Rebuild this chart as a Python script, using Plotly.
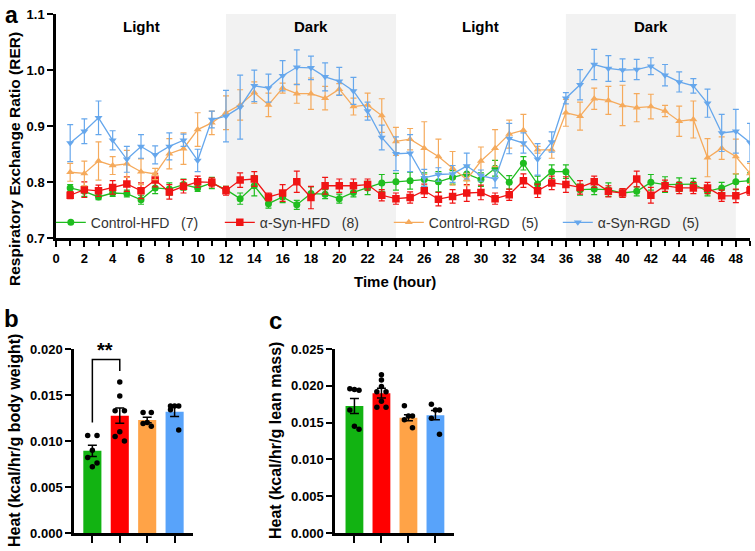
import plotly.graph_objects as go

# ---------------- data: panel a (RER time course) ----------------
hours = list(range(1, 50))
series_names = ["Control-HFD", "α-Syn-HFD", "Control-RGD", "α-Syn-RGD"]
series_n = ["(7)", "(8)", "(5)", "(5)"]

ctrl_hfd = [0.790, 0.784, 0.774, 0.781, 0.780, 0.769, 0.790, 0.788, 0.796, 0.790, 0.799, 0.787,
            0.771, 0.794, 0.762, 0.774, 0.760, 0.780, 0.779, 0.771, 0.782, 0.790, 0.799, 0.801,
            0.803, 0.805, 0.801, 0.809, 0.815, 0.805, 0.825, 0.800, 0.834, 0.797, 0.819, 0.819,
            0.787, 0.788, 0.787, 0.781, 0.784, 0.800, 0.796, 0.796, 0.797, 0.784, 0.790, 0.801, 0.803]
ctrl_hfd_err = [0.006, 0.009, 0.005, 0.006, 0.006, 0.008, 0.010, 0.011, 0.010, 0.006, 0.010, 0.006,
                0.010, 0.018, 0.008, 0.010, 0.008, 0.012, 0.008, 0.008, 0.008, 0.012, 0.015, 0.015,
                0.015, 0.012, 0.018, 0.012, 0.012, 0.012, 0.014, 0.012, 0.012, 0.014, 0.012, 0.012,
                0.010, 0.010, 0.012, 0.008, 0.008, 0.014, 0.014, 0.012, 0.010, 0.008, 0.010, 0.014, 0.014]

syn_hfd = [0.777, 0.787, 0.785, 0.791, 0.797, 0.785, 0.804, 0.783, 0.793, 0.801, 0.800, 0.785,
           0.804, 0.806, 0.774, 0.781, 0.801, 0.773, 0.794, 0.794, 0.794, 0.796, 0.777, 0.771,
           0.773, 0.785, 0.770, 0.775, 0.781, 0.782, 0.771, 0.778, 0.803, 0.785, 0.799, 0.796,
           0.791, 0.801, 0.784, 0.781, 0.806, 0.777, 0.794, 0.790, 0.790, 0.790, 0.776, 0.776, 0.785]
syn_hfd_err = [0.006, 0.014, 0.010, 0.012, 0.013, 0.014, 0.012, 0.013, 0.012, 0.010, 0.008, 0.008,
               0.013, 0.013, 0.007, 0.015, 0.019, 0.020, 0.015, 0.012, 0.012, 0.010, 0.010, 0.010,
               0.010, 0.012, 0.012, 0.012, 0.015, 0.013, 0.010, 0.010, 0.012, 0.012, 0.012, 0.014,
               0.012, 0.010, 0.010, 0.008, 0.014, 0.014, 0.010, 0.010, 0.010, 0.010, 0.010, 0.012, 0.008]

ctrl_rgd = [0.818, 0.816, 0.838, 0.830, 0.833, 0.819, 0.815, 0.851, 0.860, 0.894, 0.906, 0.924,
            0.938, 0.960, 0.938, 0.968, 0.958, 0.958, 0.950, 0.966, 0.935, 0.938, 0.919, 0.873,
            0.877, 0.861, 0.846, 0.825, 0.805, 0.838, 0.861, 0.886, 0.893, 0.858, 0.858, 0.924,
            0.918, 0.949, 0.946, 0.937, 0.933, 0.935, 0.927, 0.909, 0.912, 0.844, 0.861, 0.846, 0.816]
ctrl_rgd_err = [0.016, 0.022, 0.034, 0.016, 0.024, 0.023, 0.010, 0.027, 0.028, 0.030, 0.021, 0.030,
                0.027, 0.019, 0.021, 0.009, 0.017, 0.028, 0.021, 0.010, 0.015, 0.021, 0.030, 0.025,
                0.019, 0.047, 0.031, 0.030, 0.011, 0.025, 0.033, 0.025, 0.028, 0.006, 0.015, 0.024,
                0.025, 0.019, 0.025, 0.036, 0.025, 0.022, 0.010, 0.027, 0.033, 0.034, 0.020, 0.031, 0.018]

syn_rgd = [0.870, 0.891, 0.915, 0.875, 0.841, 0.864, 0.849, 0.864, 0.875, 0.839, 0.912, 0.918,
           0.934, 0.972, 0.968, 0.990, 1.005, 1.004, 0.988, 0.980, 0.963, 0.927, 0.880, 0.851,
           0.852, 0.808, 0.814, 0.815, 0.829, 0.812, 0.806, 0.878, 0.870, 0.841, 0.872, 0.950,
           0.974, 1.010, 1.003, 1.000, 1.001, 1.007, 0.991, 0.979, 0.972, 0.941, 0.888, 0.891, 0.871]
syn_rgd_err = [0.033, 0.022, 0.030, 0.017, 0.023, 0.021, 0.016, 0.024, 0.011, 0.020, 0.015, 0.046,
               0.057, 0.028, 0.025, 0.027, 0.031, 0.021, 0.025, 0.025, 0.024, 0.016, 0.022, 0.030,
               0.033, 0.015, 0.012, 0.015, 0.023, 0.010, 0.016, 0.027, 0.018, 0.028, 0.018, 0.010,
               0.027, 0.027, 0.023, 0.020, 0.018, 0.015, 0.019, 0.018, 0.013, 0.025, 0.033, 0.039, 0.034]

phase_labels = ["Light", "Dark", "Light", "Dark"]
phase_starts = [0, 12, 24, 36]
phase_ends = [12, 24, 36, 48]

# ---------------- data: panel b (heat / body weight) ----------------
groups = [0, 1, 2, 3]
heat_bw_mean = [0.00893, 0.01275, 0.01227, 0.01318]
heat_bw_sem = [0.00062, 0.00083, 0.00030, 0.00051]
heat_bw_dots = [
    [0.0106, 0.0106, 0.0090, 0.0082, 0.0076, 0.0072],
    [0.0164, 0.0149, 0.0133, 0.0133, 0.0110, 0.0105, 0.0100],
    [0.0131, 0.0131, 0.0120, 0.0119, 0.0116],
    [0.0138, 0.0138, 0.0138, 0.0134, 0.0112],
]
sig_pair = (0, 1)
sig_bracket = [0.0120, 0.01885, 0.0176]
sig_text = "**"

# ---------------- data: panel c (heat / lean mass) ----------------
heat_lm_mean = [0.01726, 0.01899, 0.01567, 0.01600]
heat_lm_sem = [0.00102, 0.00066, 0.00041, 0.00063]
heat_lm_dots = [
    [0.0196, 0.0194, 0.0195, 0.0167, 0.0141, 0.0145],
    [0.0215, 0.0208, 0.0199, 0.0192, 0.0192, 0.0179, 0.0171, 0.0171],
    [0.0173, 0.0159, 0.0159, 0.0154, 0.0143],
    [0.0175, 0.0167, 0.0167, 0.0156, 0.0134],
]

# ---------------- styling ----------------
FONT = "Liberation Sans, Arial, sans-serif"
line_colors = ["#1fbd1f", "#f01414", "#f5aa5c", "#66a7ec"]
bar_colors = ["#12b312", "#ff0000", "#ffa347", "#58a3fa"]
markers = ["circle", "square", "triangle-up", "triangle-down"]
marker_sizes = [7, 7.5, 7, 7]
dot_offsets = {
    5: [-0.15, 0.15, 0.0, -0.15, 0.15],
    6: [-0.17, 0.17, 0.0, -0.17, 0.17, 0.0],
    7: [0.0, 0.0, -0.17, 0.17, 0.0, -0.17, 0.17],
    8: [0.0, 0.0, 0.0, -0.17, 0.17, 0.0, -0.17, 0.17],
}

fig = go.Figure()

series_vals = [ctrl_hfd, syn_hfd, ctrl_rgd, syn_rgd]
series_errs = [ctrl_hfd_err, syn_hfd_err, ctrl_rgd_err, syn_rgd_err]

for i in range(4):
    fig.add_trace(go.Scatter(
        x=hours, y=series_vals[i], mode="lines+markers",
        name=series_names[i] + "\u00a0\u00a0\u00a0" + series_n[i],
        line=dict(color=line_colors[i], width=1.3),
        marker=dict(symbol=markers[i], size=marker_sizes[i], color=line_colors[i], line=dict(width=0)),
        error_y=dict(type="data", array=series_errs[i], color=line_colors[i], thickness=1.2, width=3),
        xaxis="x", yaxis="y",
    ))


def add_bar_panel(means, sems, dots, xa, ya):
    fig.add_trace(go.Bar(
        x=groups, y=means, width=0.66,
        marker=dict(color=bar_colors, line=dict(width=0)),
        error_y=dict(type="data", array=sems, color="black", thickness=1.5, width=4.5),
        showlegend=False, xaxis=xa, yaxis=ya,
    ))
    xs, ys = [], []
    for g, vals in zip(groups, dots):
        offs = dot_offsets[len(vals)]
        for o, v in zip(offs, vals):
            xs.append(g + o)
            ys.append(v)
    fig.add_trace(go.Scatter(
        x=xs, y=ys, mode="markers",
        marker=dict(color="black", size=5.5, symbol="circle"),
        showlegend=False, xaxis=xa, yaxis=ya, cliponaxis=False,
    ))


add_bar_panel(heat_bw_mean, heat_bw_sem, heat_bw_dots, "x2", "y2")
add_bar_panel(heat_lm_mean, heat_lm_sem, heat_lm_dots, "x3", "y3")

# significance bracket
a_, b_ = sig_pair
fig.add_trace(go.Scatter(
    x=[a_, a_, b_, b_], y=[sig_bracket[0], sig_bracket[1], sig_bracket[1], sig_bracket[2]],
    mode="lines", line=dict(color="black", width=1.5), showlegend=False,
    xaxis="x2", yaxis="y2", cliponaxis=False,
))

# shaded dark phases + phase labels
for lab, s, e in zip(phase_labels, phase_starts, phase_ends):
    if lab == "Dark":
        fig.add_shape(type="rect", xref="x", yref="y domain", x0=s, x1=e, y0=0, y1=1,
                      fillcolor="#f2f2f2", line=dict(width=0), layer="below")
    fig.add_annotation(x=(s + e) / 2, y=1.077, xref="x", yref="y", text="<b>%s</b>" % lab,
                       xanchor="center", yanchor="middle",
                       showarrow=False, font=dict(family=FONT, size=15, color="black"))

axis_common = dict(showline=True, linecolor="black", linewidth=2.5, ticks="outside",
                   tickwidth=2, tickcolor="black", showgrid=False, zeroline=False, automargin=False,
                   tickfont=dict(family=FONT, size=13, color="black", weight="bold"))

fig.update_layout(
    template="none",
    width=755, height=551, margin=dict(l=0, r=0, t=0, b=0, pad=0, autoexpand=False),
    paper_bgcolor="white", plot_bgcolor="rgba(0,0,0,0)",
    font=dict(family=FONT, color="black"),
    xaxis=dict(domain=[0.0742, 0.9934], anchor="y", range=[0, 49],
               tickmode="linear", tick0=0, dtick=2, ticklen=6,
               minor=dict(ticks="outside", dtick=1, ticklen=5, tickwidth=2, tickcolor="black"),
               **axis_common),
    yaxis=dict(domain=[0.5672, 0.9746], anchor="x", range=[0.7, 1.1],
               tickvals=[0.7, 0.8, 0.9, 1.0, 1.1], tickformat=".1f", ticklen=6, **axis_common),
    xaxis2=dict(domain=[0.098, 0.2556], anchor="y2", range=[-0.67, 3.67],
                tickvals=groups, showticklabels=False, ticklen=7, **axis_common),
    yaxis2=dict(domain=[0.0327, 0.3666], anchor="x2", range=[0, 0.020],
                tickvals=[0, 0.005, 0.010, 0.015, 0.020], tickformat=".3f", ticklen=6, **axis_common),
    xaxis3=dict(domain=[0.4437, 0.6007], anchor="y3", range=[-0.72, 3.67],
                tickvals=groups, showticklabels=False, ticklen=7, **axis_common),
    yaxis3=dict(domain=[0.0327, 0.3666], anchor="x3", range=[0, 0.025],
                tickvals=[0, 0.005, 0.010, 0.015, 0.020, 0.025], tickformat=".3f", ticklen=6, **axis_common),
    legend=dict(orientation="h", x=0.0673, y=0.5958, xanchor="left", yanchor="middle",
                bgcolor="rgba(0,0,0,0)", entrywidth=124, entrywidthmode="pixels",
                font=dict(family=FONT, size=14, color="#333333"), itemwidth=30, tracegroupgap=0),
    showlegend=True,
)

# significance text
fig.add_annotation(x=105.5 / 755, y=1 - 350 / 551, xref="paper", yref="paper", text="<b>%s</b>" % sig_text,
                   xanchor="center", yanchor="middle",
                   showarrow=False, font=dict(family=FONT, size=20, color="black"))

# axis titles and panel letters
fig.add_annotation(x=395 / 755, y=1 - 281 / 551, xref="paper", yref="paper", text="<b>Time (hour)</b>",
                   xanchor="center", yanchor="middle",
                   showarrow=False, font=dict(family=FONT, size=15, color="black"))
for txt, px, py, fs in [("Respiratory Exchange Ratio (RER)", 14, 159, 15.5),
                        ("Heat (kcal/hr/g body weight)", 14, 441, 16),
                        ("Heat (kcal/hr/g lean mass)", 275, 441, 16)]:
    fig.add_annotation(x=px / 755, y=1 - py / 551, xref="paper", yref="paper",
                       text="<b>%s</b>" % txt, textangle=-90, xanchor="center", yanchor="middle",
                       showarrow=False, font=dict(family=FONT, size=fs, color="black"))
fig.add_annotation(x=11 / 755, y=1.0, xref="paper", yref="paper", text="<b>a</b>",
                   xanchor="center", yanchor="top", showarrow=False,
                   font=dict(family=FONT, size=23, color="black"))
for letter, px, py in [("b", 11, 318), ("c", 275, 320)]:
    fig.add_annotation(x=px / 755, y=1 - py / 551, xref="paper", yref="paper", text="<b>%s</b>" % letter,
                       xanchor="center", yanchor="middle",
                       showarrow=False, font=dict(family=FONT, size=24, color="black"))

fig.write_html("out.html")
